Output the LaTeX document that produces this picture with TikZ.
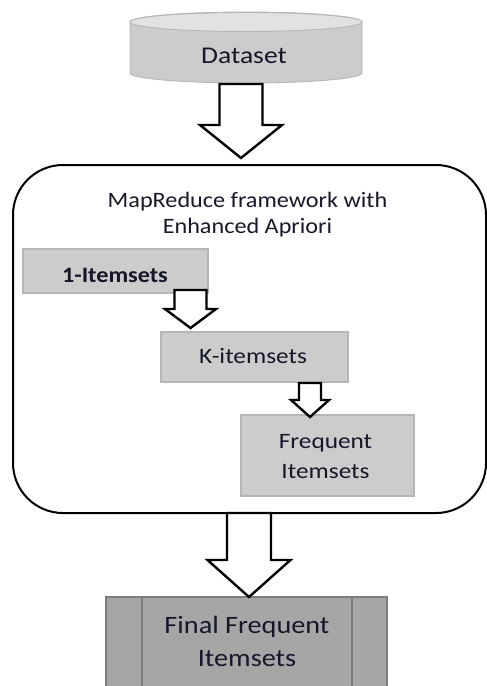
\documentclass[tikz,border=0pt]{standalone}
\usepackage{fontspec}
\setmainfont{Carlito}
\usetikzlibrary{calc}
\definecolor{ink}{RGB}{22,24,42}
\definecolor{boxfill}{RGB}{204,204,204}
\definecolor{boxline}{RGB}{182,182,182}
\definecolor{finalfill}{RGB}{166,166,166}
\definecolor{finalline}{RGB}{125,125,125}
\definecolor{cyltop}{RGB}{226,226,226}

% wide text: Carlito stretched horizontally
\newcommand\widetext[2]{\scalebox{#1}[1]{#2}}
% block arrow from start coordinate to tip coordinate
\newcommand\blockarrow[5]{%
  \draw[barrow] ($(#1)+(-#3,0)$) -- ($(#2)+(-#3,-#5)$) -- ($(#2)+(-#4,-#5)$)
    -- (#2) -- ($(#2)+(#4,-#5)$) -- ($(#2)+(#3,-#5)$) -- ($(#1)+(#3,0)$) -- cycle;}

\begin{document}
\begin{tikzpicture}[x=1pt,y=-1pt,
  itembox/.style={draw=boxline, line width=1.2pt, fill=boxfill, inner sep=0pt, outer sep=0pt},
  finalbox/.style={draw=finalline, line width=2pt, fill=finalfill, inner sep=0pt, outer sep=0pt},
  frame/.style={draw=black, line width=2pt, rounded corners=50pt, inner sep=0pt, outer sep=0pt},
  label/.style={text=ink, inner sep=0pt, anchor=base},
  barrow/.style={draw=black, fill=white, line width=2.4pt, line join=miter}]
\useasboundingbox (0,0) rectangle (487,686);
\clip (0,0) rectangle (487,686);

% Dataset cylinder (y points down: the front arc runs through 90 degrees)
\path[draw=boxline, line width=0.9pt, fill=boxfill]
  (130,22) -- (130,73) arc[start angle=180, end angle=0, x radius=116, y radius=10]
  -- (362,22) arc[start angle=0, end angle=-180, x radius=116, y radius=10] -- cycle;
\path[draw=boxline, line width=0.9pt, fill=cyltop]
  (246,22) ellipse[x radius=116, y radius=9.5];
\node[label] (data) at (244,63) {\fontsize{24}{28}\selectfont\widetext{1.15}{Dataset}};

% MapReduce frame
\node[frame, minimum width=473pt, minimum height=348pt] (mr) at (249.5,339) {};
\node[label] (title) at (247.5,207) {\fontsize{22}{26}\selectfont\widetext{1.1}{%
  \begin{tabular}[t]{@{}c@{}}MapReduce framework with\\Enhanced Apriori\end{tabular}}};

% Inner stages
\node[itembox, minimum width=185pt, minimum height=44pt] (one) at (115.5,271) {};
\node[label] (onet) at (115,282) {\fontsize{22}{26}\selectfont\widetext{1.1}{\textbf{1-Itemsets}}};

\node[itembox, minimum width=187pt, minimum height=50pt] (kset) at (254.5,357) {};
\node[label] (ksett) at (253,363) {\fontsize{22}{26}\selectfont\widetext{1.15}{K-itemsets}};

\node[itembox, minimum width=173pt, minimum height=81pt] (freq) at (327.5,455.5) {};
\node[label] (freqt) at (325.5,448) {\fontsize{22}{30}\selectfont\widetext{1.15}{%
  \begin{tabular}[t]{@{}c@{}}Frequent\\Itemsets\end{tabular}}};

% Final result
\node[finalbox, minimum width=281pt, minimum height=110pt] (final) at (246.5,652) {};
\draw[finalline, line width=2pt] ($(final.north west)+(36,0)$) -- ($(final.south west)+(36,0)$);
\draw[finalline, line width=2pt] ($(final.north east)+(-35,0)$) -- ($(final.south east)+(-35,0)$);
\node[label] (finalt) at (247,633) {\fontsize{25}{33}\selectfont\widetext{1.13}{%
  \begin{tabular}[t]{@{}c@{}}Final Frequent\\Itemsets\end{tabular}}};

% Block arrows
\coordinate (a1s) at (241,84);   \coordinate (a1t) at (241,158);
\coordinate (a2s) at (190.5,290); \coordinate (a2t) at (190.5,328);
\coordinate (a3s) at (310,383);  \coordinate (a3t) at (310,417);
\coordinate (a4x) at (249,0);
\coordinate (a4s) at (a4x |- mr.south); \coordinate (a4t) at (a4x |- final.north);
\blockarrow{a1s}{a1t}{21.5}{41}{33}
\blockarrow{a2s}{a2t}{16}{25.5}{19}
\blockarrow{a3s}{a3t}{11}{19}{17}
\blockarrow{a4s}{a4t}{22}{41.5}{37}
\end{tikzpicture}
\end{document}
